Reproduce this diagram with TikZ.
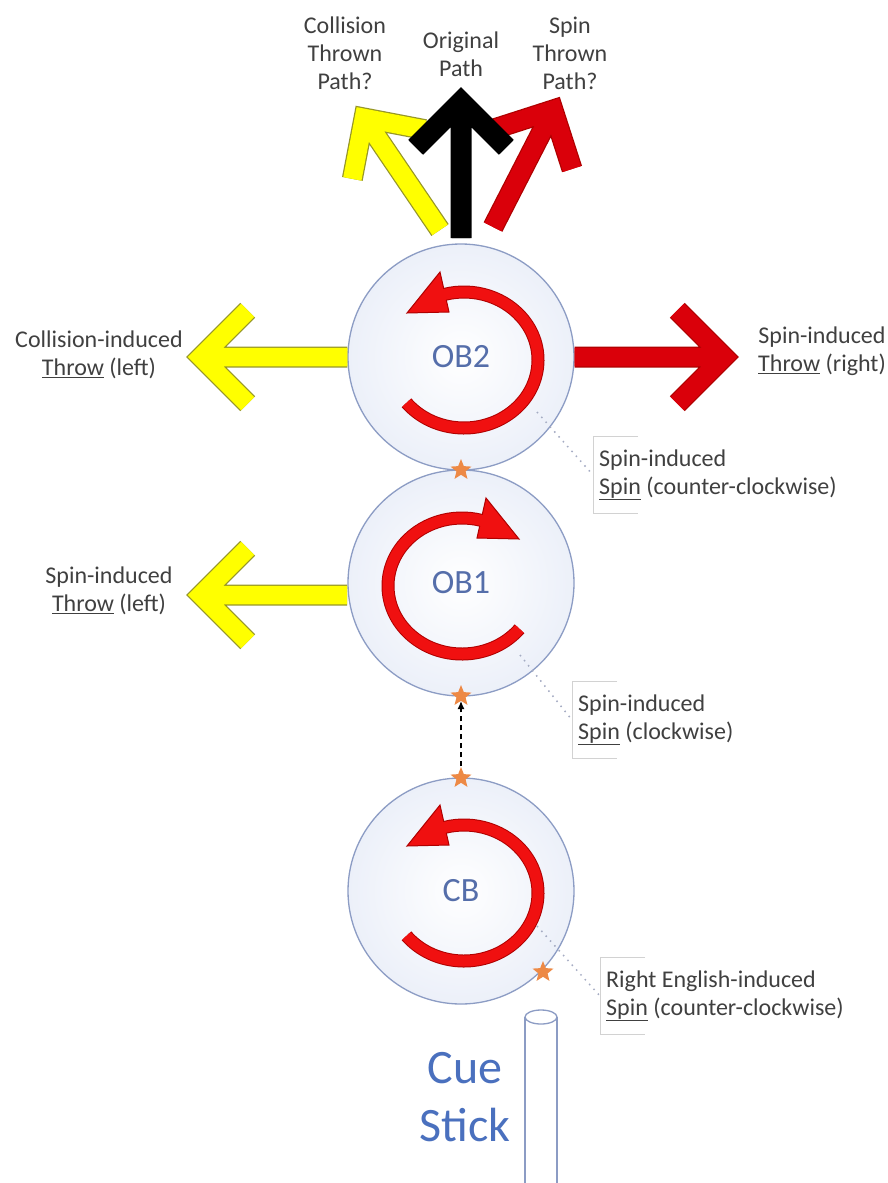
\documentclass[tikz,border=0pt]{standalone}
\usepackage{fontspec}
\setmainfont{Carlito}
\usetikzlibrary{shapes.geometric,arrows.meta,calc}
\definecolor{ballline}{RGB}{140,156,196}
\definecolor{ballfill}{RGB}{236,240,249}
\definecolor{txt}{RGB}{64,64,64}
\definecolor{obtext}{RGB}{85,110,170}
\definecolor{cuetext}{RGB}{74,112,190}
\definecolor{yel}{RGB}{255,255,0}
\definecolor{yeldark}{RGB}{150,150,40}
\definecolor{throwred}{RGB}{218,0,10}
\definecolor{reddark}{RGB}{175,0,0}
\definecolor{spinred}{RGB}{240,16,16}
\definecolor{orng}{RGB}{237,137,69}
\definecolor{bracketgray}{RGB}{210,210,210}
\definecolor{leadergray}{RGB}{165,172,195}
\newcommand\throwarrow[5]{%
  \draw[#2, line width=21pt, line join=miter, miter limit=4] (#3) -- (#4) ($(#4)!#5!45:(#3)$) -- (#4) -- ($(#4)!#5!-45:(#3)$);
  \draw[#1, line width=18.5pt, line join=miter, miter limit=4] (#3) -- (#4) ($(#4)!#5!45:(#3)$) -- (#4) -- ($(#4)!#5!-45:(#3)$);
}
\newcommand\spinarrow[4]{%
  \draw[line width=13pt, reddark] (#1) ++(#2:74pt and 68pt) arc[start angle=#2, end angle=#3, x radius=74pt, y radius=68pt];
  \filldraw[fill=spinred, draw=reddark, line width=1pt, line join=miter] ($(#1)+(#4*57,47)$) -- ($(#1)+(#4*24,88)$) -- ($(#1)+(#4*15,48)$) -- cycle;
  \draw[line width=11pt, spinred] (#1) ++(#2:74pt and 68pt) arc[start angle=#2, end angle=#3, x radius=74pt, y radius=68pt];
}
\begin{document}
\begin{tikzpicture}[x=1pt,y=1pt,
  ball/.style={circle, draw=ballline, line width=1.3pt, minimum size=226pt, inner sep=0pt, inner color=white, outer color=ballfill, text=obtext, font=\fontsize{34}{36}\selectfont},
  lbl/.style={text=txt, font=\fontsize{24}{28}\selectfont, align=center, inner sep=0pt},
  callout/.style={text=txt, font=\fontsize{24}{28}\selectfont, align=left, inner xsep=6pt, inner ysep=0pt, minimum height=76pt, anchor=west},
  bracketline/.style={draw=bracketgray, line width=1pt},
  leader/.style={draw=leadergray, line width=1.5pt, dash pattern=on 1.5pt off 5pt},
  spark/.style={star, star points=5, star point ratio=2.3, fill=orng, draw=none, minimum size=22pt, inner sep=0pt},
]
\useasboundingbox (0,0) rectangle (888,-1183);
\fill[white] (0,0) rectangle (888,-1183);

% balls
\node[ball] (OB2) at (461,-357) {OB2};
\node[ball] (OB1) at (461,-583) {OB1};
\node[ball] (CB) at (461,-891) {CB};

% spin arrows inside balls
\spinarrow{464,-360}{219}{470}{-1}
\spinarrow{462,-586}{-39}{-290}{1}
\spinarrow{464,-893}{219}{470}{-1}

% contact stars
\node[spark] (s1) at (461,-470) {};
\node[spark] (s2) at (461,-696) {};
\node[spark] (s3) at (461,-778) {};
\node[spark] (s4) at (543,-972) {};
\draw[dash pattern=on 5pt off 4pt, line width=1.2pt, -{Latex[length=8pt,width=7pt]}] (s3.north) -- (s2.south);

% throw arrows
\coordinate (ytipA) at (201,-357);
\coordinate (rtip) at (724,-357);
\coordinate (ybaseB) at (347,-595);
\coordinate (ytipB) at (201,-595);
\throwarrow{yel}{yeldark}{OB2.west}{ytipA}{66pt}
\throwarrow{throwred}{reddark}{OB2.east}{rtip}{66pt}
\throwarrow{yel}{yeldark}{ybaseB}{ytipB}{66pt}

% thrown paths at top
\coordinate (ybase) at (440,-230);
\coordinate (ytip) at (364,-118);
\coordinate (rbase) at (493,-227);
\coordinate (rtop) at (553,-110);
\coordinate (kbase) at (461,-238);
\coordinate (ktip) at (461,-102);
\throwarrow{yel}{yeldark}{ybase}{ytip}{62pt}
\throwarrow{throwred}{reddark}{rbase}{rtop}{62pt}
\throwarrow{black}{black}{kbase}{ktip}{64pt}

% top labels
\node[lbl] (lcoll) at (345,-53) {Collision\\Thrown\\Path?};
\node[lbl] (lorig) at (461,-54) {Original\\Path};
\node[lbl] (lspin) at (570,-53) {Spin\\Thrown\\Path?};

% side labels
\node[lbl] (lcolli) at (99,-355) {Collision-induced\\\underline{Throw} (left)};
\node[lbl] (lspinr) at (822,-351) {Spin-induced\\\underline{Throw} (right)};
\node[lbl] (lspinl) at (109,-591) {Spin-induced\\\underline{Throw} (left)};

% callouts
\node[callout] (c2) at (593,-475) {Spin-induced\\\underline{Spin} (counter-clockwise)};
\node[callout] (c1) at (572,-720) {Spin-induced\\\underline{Spin} (clockwise)};
\node[callout] (c0) at (600,-996) {Right English-induced\\\underline{Spin} (counter-clockwise)};
\foreach \c in {c2,c1,c0}{
  \draw[bracketline] ($(\c.north west)+(45,0)$) -- (\c.north west) -- (\c.south west) -- ++(45,0);
}
\coordinate (p2) at (537,-412);
\coordinate (p1) at (520,-655);
\coordinate (p0) at (537,-926);
\draw[leader] (p2) -- (c2.west);
\draw[leader] (p1) -- (c1.west);
\draw[leader] (p0) -- (c0.west);

% cue stick
\fill[white] (525,-1017) rectangle (557,-1190);
\draw[ballline, line width=1.3pt] (525,-1190) -- (525,-1017) (557,-1017) -- (557,-1190);
\draw[ballline, line width=1.3pt, fill=white] (541,-1017) ellipse[x radius=16, y radius=7];
\node[text=cuetext, font=\fontsize{48}{58}\selectfont, align=center, inner sep=0pt] (cue) at (465,-1097) {Cue\\Stick};
\end{tikzpicture}
\end{document}
